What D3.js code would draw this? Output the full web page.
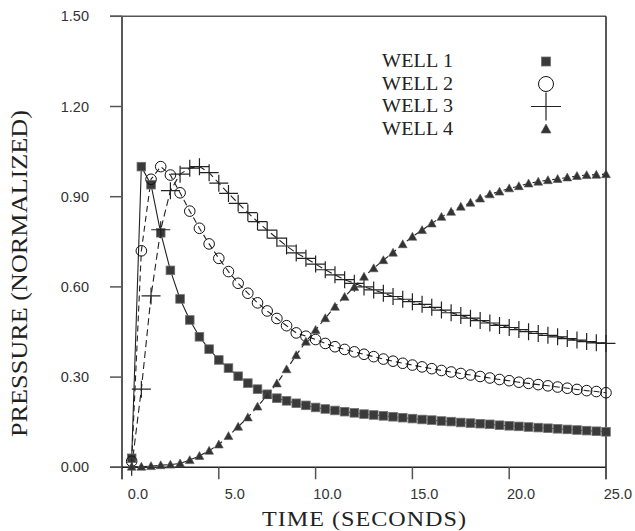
<!DOCTYPE html>
<html>
<head>
<meta charset="utf-8">
<script src="https://cdn.jsdelivr.net/npm/d3@7"></script>
<style>
  html, body { margin: 0; padding: 0; background: #fff; }
  svg { display: block; }
</style>
</head>
<body>
<svg id="chart" width="635" height="531"></svg>
<script>
// ---- data ----
const times = [0.5,1.0,1.5,2.0,2.5,3.0,3.5,4.0,4.5,5.0,5.5,6.0,6.5,7.0,7.5,8.0,8.5,9.0,9.5,10.0,
  10.5,11.0,11.5,12.0,12.5,13.0,13.5,14.0,14.5,15.0,15.5,16.0,16.5,17.0,17.5,18.0,18.5,19.0,19.5,20.0,
  20.5,21.0,21.5,22.0,22.5,23.0,23.5,24.0,24.5,25.0];

const well1 = [0.03,1.00,0.94,0.78,0.655,0.56,0.49,0.434,0.393,0.357,0.33,0.303,0.28,0.26,0.243,0.23,0.221,0.213,0.206,0.199,
  0.194,0.189,0.185,0.181,0.177,0.174,0.171,0.168,0.165,0.162,0.159,0.157,0.154,0.152,0.149,0.147,0.145,0.143,0.140,0.138,
  0.136,0.134,0.132,0.130,0.128,0.126,0.124,0.122,0.120,0.118];

const well2 = [0.02,0.72,0.958,1.00,0.972,0.913,0.852,0.795,0.743,0.695,0.651,0.612,0.579,0.547,0.52,0.495,0.471,0.447,0.436,0.425,
  0.412,0.401,0.392,0.384,0.376,0.368,0.360,0.353,0.346,0.340,0.334,0.328,0.322,0.317,0.312,0.307,0.302,0.297,0.292,0.288,
  0.283,0.279,0.275,0.271,0.267,0.263,0.259,0.255,0.252,0.248];

const well3 = [0.0,0.26,0.57,0.79,0.92,0.975,0.995,1.0,0.98,0.945,0.911,0.878,0.847,0.817,0.789,0.762,0.736,0.713,0.695,0.676,
  0.657,0.640,0.624,0.612,0.600,0.590,0.579,0.568,0.559,0.551,0.542,0.532,0.523,0.514,0.505,0.496,0.488,0.480,0.472,0.465,
  0.458,0.451,0.445,0.439,0.434,0.428,0.423,0.418,0.414,0.412];

const well4 = [0.002,0.002,0.004,0.007,0.009,0.013,0.024,0.038,0.055,0.076,0.104,0.135,0.166,0.202,0.24,0.279,0.326,0.373,0.418,0.457,
  0.496,0.534,0.567,0.60,0.634,0.662,0.689,0.714,0.742,0.767,0.789,0.811,0.833,0.85,0.867,0.88,0.894,0.908,0.917,0.928,
  0.935,0.944,0.95,0.955,0.959,0.964,0.969,0.972,0.973,0.975];

const seriesNames = ["WELL 1", "WELL 2", "WELL 3", "WELL 4"];
const xTicks = [0, 5, 10, 15, 20, 25];
const xTickLabels = ["0.0", "5.0", "10.0", "15.0", "20.0", "25.0"];
const yTicks = [0, 0.3, 0.6, 0.9, 1.2, 1.5];
const yTickLabels = ["0.00", "0.30", "0.60", "0.90", "1.20", "1.50"];

// ---- layout ----
const svg = d3.select("#chart");
const x = d3.scaleLinear().domain([0, 25]).range([122, 606]);
const y = d3.scaleLinear().domain([0, 1.5]).range([467.3, 16.3]);

const ink = "#222";
const tickCol = "#555";
const serif = "'Liberation Serif', 'Times New Roman', serif";
const sans = "'Liberation Sans', Arial, sans-serif";

// stretched serif text helper (keeps real text)
function serifText(parent, tx, ty, rot, sx, size, len, anchor, str) {
  const g = parent.append("g")
    .attr("transform", `translate(${tx},${ty}) rotate(${rot}) scale(${sx},1)`);
  g.append("text").attr("x", 0).attr("y", 0).attr("text-anchor", anchor)
    .attr("font-family", serif).attr("font-size", size).attr("fill", ink)
    .attr("textLength", len / sx).attr("lengthAdjust", "spacing").text(str);
  return g;
}

// frame
svg.append("line").attr("x1", x(0)).attr("x2", x(0)).attr("y1", y(1.5)).attr("y2", y(0) + 12)
  .attr("stroke", ink).attr("stroke-width", 1.5);
svg.append("line").attr("x1", x(0) - 12).attr("x2", x(25)).attr("y1", y(0)).attr("y2", y(0))
  .attr("stroke", ink).attr("stroke-width", 1.5);
svg.append("line").attr("x1", x(0) - 12).attr("x2", x(25)).attr("y1", y(1.5)).attr("y2", y(1.5))
  .attr("stroke", tickCol).attr("stroke-width", 1.5);
svg.append("line").attr("x1", x(25)).attr("x2", x(25)).attr("y1", y(1.5)).attr("y2", y(0) + 12)
  .attr("stroke", ink).attr("stroke-width", 1.5);

// y ticks
const yAxisG = svg.append("g");
yTicks.forEach((v, i) => {
  yAxisG.append("line").attr("x1", x(0) - 12).attr("x2", x(0)).attr("y1", y(v)).attr("y2", y(v))
    .attr("stroke", tickCol).attr("stroke-width", 1.5);
  yAxisG.append("text").attr("x", 89).attr("y", y(v)).attr("dy", "0.35em")
    .attr("text-anchor", "end").attr("font-family", sans).attr("font-size", 14.5)
    .attr("fill", "#333").text(yTickLabels[i]);
});

// x ticks
const xAxisG = svg.append("g");
xTicks.forEach((v, i) => {
  xAxisG.append("line").attr("x1", x(v)).attr("x2", x(v)).attr("y1", y(0)).attr("y2", y(0) + 12)
    .attr("stroke", tickCol).attr("stroke-width", 1.5);
  xAxisG.append("text").attr("x", x(v) + 26).attr("y", 499)
    .attr("text-anchor", "end").attr("font-family", sans).attr("font-size", 14.5)
    .attr("fill", "#333").text(xTickLabels[i]);
});

// axis titles
serifText(svg, 364, 526, 0, 1.15, 21, 204, "middle", "TIME (SECONDS)");
serifText(svg, 27, 273.5, -90, 1.09, 24, 327, "middle", "PRESSURE (NORMALIZED)");

// ---- series ----
const datasets = [well1, well2, well3, well4];
const dashes = [null, "6,4", "7,4", "6,4"];
const line = d3.line().x(d => x(d[0])).y(d => y(d[1]));

datasets.forEach((vals, si) => {
  const pts = times.map((t, i) => [t, vals[i]]);
  svg.append("path").datum(pts).attr("d", line).attr("fill", "none")
    .attr("stroke", ink).attr("stroke-width", 1.1)
    .attr("stroke-dasharray", dashes[si]);
});

function drawMarker(g, kind, cx, cy, big) {
  if (kind === 0) {
    const h = big ? 4.5 : 4.3;
    g.append("rect").attr("x", cx - h).attr("y", cy - h).attr("width", 2 * h).attr("height", 2 * h)
      .attr("fill", "#3a3a3a").attr("stroke", "#707070").attr("stroke-width", 0.8);
  } else if (kind === 1) {
    g.append("circle").attr("cx", cx).attr("cy", cy).attr("r", big ? 7.5 : 5.3)
      .attr("fill", "none").attr("stroke", "#111").attr("stroke-width", 1);
  } else if (kind === 2) {
    const h = big ? 15 : 9.5;
    const v = big ? 14 : 8.5;
    g.append("path").attr("d", `M${cx - h},${cy}H${cx + h}M${cx},${cy - v}V${cy + v}`)
      .attr("stroke", "#222").attr("stroke-width", 1.2).attr("fill", "none");
  } else {
    const w = big ? 5 : 4.4;
    g.append("path").attr("d", `M${cx},${cy - w}L${cx + w},${cy + w * 0.8}L${cx - w},${cy + w * 0.8}Z`)
      .attr("fill", "#333").attr("stroke", "#555").attr("stroke-width", 0.6);
  }
}

datasets.forEach((vals, si) => {
  const g = svg.append("g");
  times.forEach((t, i) => drawMarker(g, si, x(t), y(vals[i]), false));
});

// ---- legend ----
const legend = svg.append("g");
const legendBase = [67, 89.5, 112, 134.5];
seriesNames.forEach((name, i) => {
  serifText(legend, 382, legendBase[i], 0, 1.06, 19, 71, "start", name);
  drawMarker(legend, i, 546, legendBase[i] - 5.5, true);
});
</script>
</body>
</html>
